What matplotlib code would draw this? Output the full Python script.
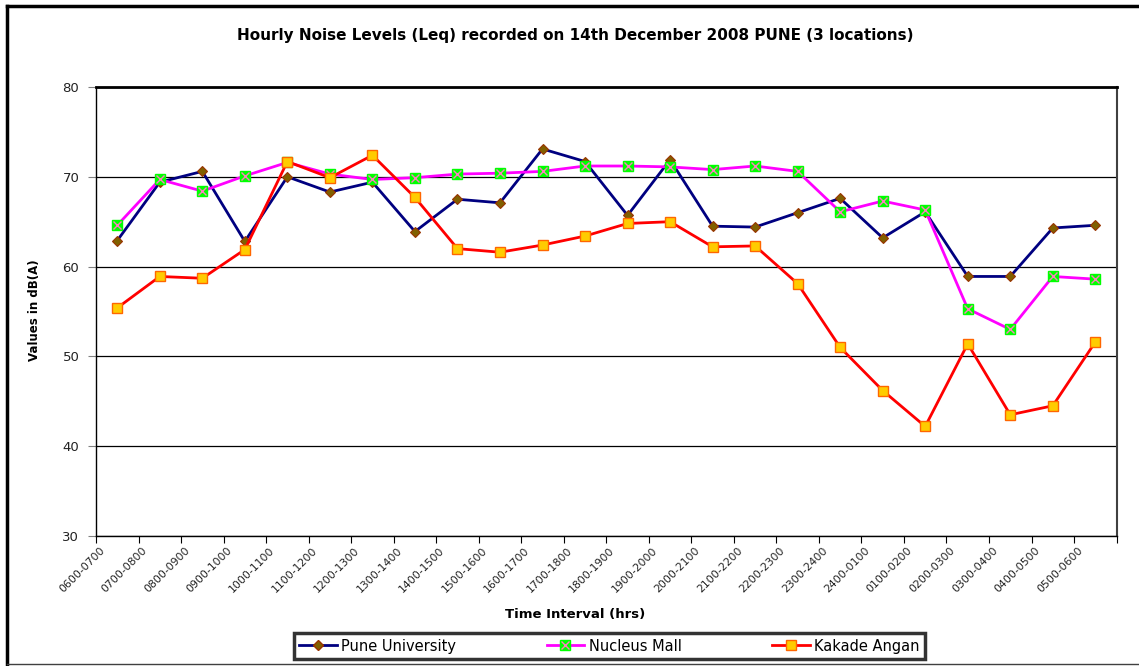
import numpy as np
import matplotlib
matplotlib.use("Agg")
import matplotlib.pyplot as plt
from matplotlib.lines import Line2D
from matplotlib.transforms import ScaledTranslation

# intervalos de tempo (categorias)
intervalos = ["0600-0700", "0700-0800", "0800-0900", "0900-1000", "1000-1100",
              "1100-1200", "1200-1300", "1300-1400", "1400-1500", "1500-1600",
              "1600-1700", "1700-1800", "1800-1900", "1900-2000", "2000-2100",
              "2100-2200", "2200-2300", "2300-2400", "2400-0100", "0100-0200",
              "0200-0300", "0300-0400", "0400-0500", "0500-0600"]

# valores, em dB(A)
pune_university = [62.9, 69.4, 70.6, 62.8, 70.0, 68.3, 69.4, 63.9, 67.5, 67.1,
                   73.1, 71.7, 65.7, 71.9, 64.5, 64.4, 66.0, 67.6, 63.2, 66.1,
                   58.9, 58.9, 64.3, 64.6]
nucleus_mall = [64.6, 69.7, 68.4, 70.1, 71.6, 70.3, 69.7, 69.9, 70.3, 70.4,
                70.6, 71.2, 71.2, 71.1, 70.8, 71.2, 70.6, 66.1, 67.3, 66.3,
                55.3, 53.0, 58.9, 58.6]
kakade_angan = [55.4, 58.9, 58.7, 61.9, 71.7, 69.9, 72.4, 67.7, 62.0, 61.6,
                62.4, 63.4, 64.8, 65.0, 62.2, 62.3, 58.1, 51.0, 46.2, 42.2,
                51.4, 43.5, 44.5, 51.6]

fig = plt.figure(figsize=(11.39, 6.66), dpi=100)
ax = fig.add_axes([0.0843, 0.1952, 0.896, 0.6742])

x = np.arange(len(intervalos))

# linhas + marcadores
ax.plot(x, pune_university, color='#000080', lw=2.0, marker='D', markersize=5.5,
        markerfacecolor='#806000', markeredgecolor='#993300', markeredgewidth=0.8, zorder=3)
ax.plot(x, nucleus_mall, color='#FF00FF', lw=2.0, marker='s', markersize=6.5,
        markerfacecolor='#00FF00', markeredgecolor='#00FF00', zorder=4)
ax.plot(x, nucleus_mall, ls='none', marker='x', markersize=5.5,
        markeredgecolor='#FF80C0', markeredgewidth=1.0, zorder=5)
ax.plot(x, kakade_angan, color='#FF0000', lw=2.0, marker='s', markersize=6.5,
        markerfacecolor='#FFCC00', markeredgecolor='#FF6600', markeredgewidth=1.0, zorder=6)

ax.set_xlim(-0.5, len(intervalos) - 0.5)
ax.set_ylim(30, 80)
ax.set_yticks([30, 40, 50, 60, 70, 80])
ax.yaxis.grid(True, color='black', lw=0.9)
ax.set_axisbelow(True)
ax.tick_params(axis='y', direction='out', length=6, color='#808080', labelsize=9.5,
               labelcolor='#222222', pad=6)

# ticks nas fronteiras das categorias, rotulos no centro
ax.set_xticks(np.arange(len(intervalos) + 1) - 0.5)
ax.set_xticklabels([])
ax.tick_params(axis='x', direction='out', length=5, color='black')
desloc = ScaledTranslation(-18 / 100, -9 / 100, fig.dpi_scale_trans)
for i, lab in enumerate(intervalos):
    ax.text(i, 30, lab, rotation=45, ha='right', va='top', fontsize=7.8,
            rotation_mode='anchor', color='#222222',
            transform=ax.transData + desloc)

for lado in ['left', 'bottom']:
    ax.spines[lado].set_color('black')
    ax.spines[lado].set_linewidth(1.0)
ax.spines['top'].set_linewidth(2.0)
ax.spines['right'].set_color('#404040')
ax.spines['right'].set_linewidth(1.5)

fig.text(0.505, 0.947, 'Hourly Noise Levels (Leq) recorded on 14th December 2008 PUNE (3 locations)',
         ha='center', va='center', fontsize=11, fontweight='bold')
fig.text(0.505, 0.078, 'Time Interval (hrs)', ha='center', va='center',
         fontsize=9.5, fontweight='bold')
fig.text(0.030, 0.535, 'Values in dB(A)', ha='center', va='center', rotation=90,
         fontsize=8.5, fontweight='bold')

# legenda
h1 = Line2D([], [], color='#000080', lw=2.0, marker='D', markersize=5.5,
            markerfacecolor='#806000', markeredgecolor='#993300')
h2a = Line2D([], [], color='#FF00FF', lw=2.0, marker='s', markersize=6.5,
             markerfacecolor='#00FF00', markeredgecolor='#00FF00')
h2b = Line2D([], [], ls='none', marker='x', markersize=5.5,
             markeredgecolor='#FF80C0', markeredgewidth=1.0)
h3 = Line2D([], [], color='#FF0000', lw=2.0, marker='s', markersize=6.5,
            markerfacecolor='#FFCC00', markeredgecolor='#FF6600')
leg = fig.legend([h1, (h2a, h2b), h3], ['Pune University', 'Nucleus Mall', 'Kakade Angan'],
                 loc='center', bbox_to_anchor=(0.535, 0.030), ncol=3, fontsize=10.5,
                 frameon=True, fancybox=False, handlelength=2.6, handletextpad=0.3,
                 columnspacing=6.2, borderpad=0.35)
leg.get_frame().set_edgecolor('black')
leg.get_frame().set_linewidth(2.5)

# moldura externa do grafico
fig.add_artist(Line2D([0.006, 0.006], [0.003, 0.991], color='black', lw=2.5,
                      transform=fig.transFigure))
fig.add_artist(Line2D([0.006, 1.0], [0.991, 0.991], color='black', lw=2.5,
                      transform=fig.transFigure))
fig.add_artist(Line2D([0.006, 1.0], [0.003, 0.003], color='#404040', lw=1.0,
                      transform=fig.transFigure))

fig.savefig('out.png', dpi=100)
